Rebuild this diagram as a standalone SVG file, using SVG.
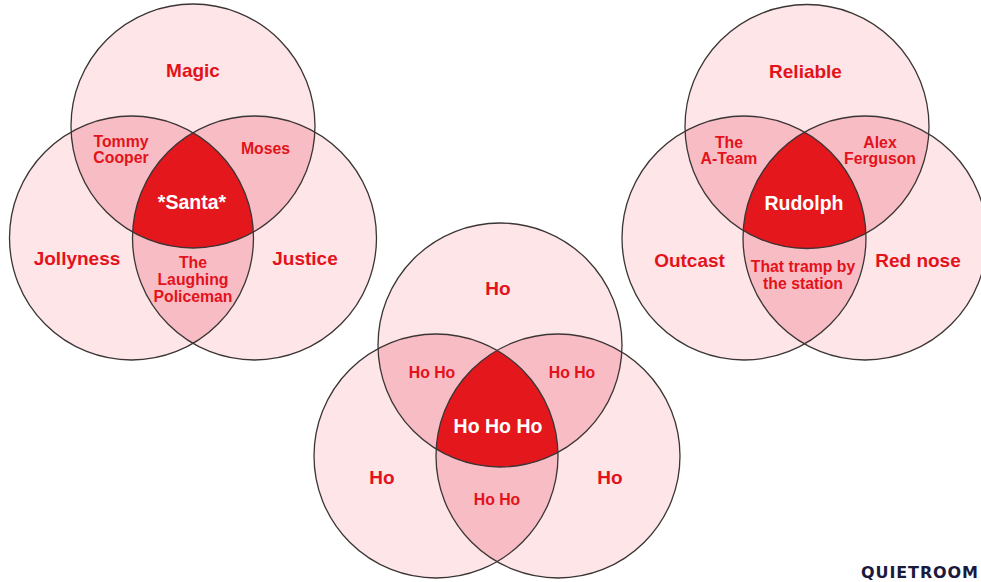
<svg xmlns="http://www.w3.org/2000/svg" width="981" height="582" viewBox="0 0 981 582">
<style>
  .one{fill:#fde5e8}
  .two{fill:#f8bcc4}
  .three{fill:#e3171c}
  .ring{fill:none;stroke:#3b3535;stroke-width:1.3}
  text{font-family:"Liberation Sans",Arial,sans-serif;font-weight:bold;text-anchor:middle}
  .big{font-size:19px;fill:#e3121b}
  .small{font-size:15.8px;fill:#e3121b}
  .white{font-size:19.5px;fill:#ffffff}
  .brand{font-family:"DejaVu Sans",sans-serif;font-size:16px;fill:#1b1a3c;text-anchor:start;letter-spacing:0.9px}
</style>
<defs>
  <clipPath id="aT"><circle cx="193" cy="126" r="122"/></clipPath>
  <clipPath id="aL"><circle cx="131.5" cy="238" r="122"/></clipPath>
  <clipPath id="aR"><circle cx="254.5" cy="238" r="122"/></clipPath>
  <clipPath id="bT"><circle cx="500" cy="345" r="122"/></clipPath>
  <clipPath id="bL"><circle cx="436" cy="456" r="122"/></clipPath>
  <clipPath id="bR"><circle cx="558" cy="456" r="122"/></clipPath>
  <clipPath id="cT"><circle cx="807" cy="126.5" r="122"/></clipPath>
  <clipPath id="cL"><circle cx="744" cy="238" r="122"/></clipPath>
  <clipPath id="cR"><circle cx="865" cy="238" r="122"/></clipPath>
</defs>

<!-- Venn 1: Santa -->
<g id="venn-santa">
  <g id="santa-fills">
    <circle class="one" cx="193" cy="126" r="122"/>
    <circle class="one" cx="131.5" cy="238" r="122"/>
    <circle class="one" cx="254.5" cy="238" r="122"/>
    <circle class="two" cx="131.5" cy="238" r="122" clip-path="url(#aT)"/>
    <circle class="two" cx="254.5" cy="238" r="122" clip-path="url(#aT)"/>
    <circle class="two" cx="254.5" cy="238" r="122" clip-path="url(#aL)"/>
    <g clip-path="url(#aT)"><circle class="three" cx="131.5" cy="238" r="122" clip-path="url(#aR)"/></g>
  </g>
  <g id="magic"><circle class="ring" cx="193" cy="126" r="122"/><text class="big" x="193" y="77">Magic</text></g>
  <g id="jollyness"><circle class="ring" cx="131.5" cy="238" r="122"/><text class="big" x="77" y="265">Jollyness</text></g>
  <g id="justice"><circle class="ring" cx="254.5" cy="238" r="122"/><text class="big" x="305" y="265">Justice</text></g>
  <g id="tommy-cooper"><text class="small" x="121" y="146.5">Tommy</text><text class="small" x="121" y="162.5">Cooper</text></g>
  <g id="moses"><text class="small" x="265.5" y="154">Moses</text></g>
  <g id="laughing-policeman"><text class="small" x="193" y="267.5">The</text><text class="small" x="193" y="284.5">Laughing</text><text class="small" x="193" y="301.5">Policeman</text></g>
  <g id="santa"><text class="white" x="192" y="209">*Santa*</text></g>
</g>

<!-- Venn 2: Ho -->
<g id="venn-ho">
  <g id="ho-fills">
    <circle class="one" cx="500" cy="345" r="122"/>
    <circle class="one" cx="436" cy="456" r="122"/>
    <circle class="one" cx="558" cy="456" r="122"/>
    <circle class="two" cx="436" cy="456" r="122" clip-path="url(#bT)"/>
    <circle class="two" cx="558" cy="456" r="122" clip-path="url(#bT)"/>
    <circle class="two" cx="558" cy="456" r="122" clip-path="url(#bL)"/>
    <g clip-path="url(#bT)"><circle class="three" cx="436" cy="456" r="122" clip-path="url(#bR)"/></g>
  </g>
  <g id="ho-top"><circle class="ring" cx="500" cy="345" r="122"/><text class="big" x="498" y="295">Ho</text></g>
  <g id="ho-left"><circle class="ring" cx="436" cy="456" r="122"/><text class="big" x="382" y="484">Ho</text></g>
  <g id="ho-right"><circle class="ring" cx="558" cy="456" r="122"/><text class="big" x="610" y="484">Ho</text></g>
  <g id="hoho-left"><text class="small" x="432" y="377.5">Ho Ho</text></g>
  <g id="hoho-right"><text class="small" x="572" y="377.5">Ho Ho</text></g>
  <g id="hoho-bottom"><text class="small" x="497" y="505">Ho Ho</text></g>
  <g id="hohoho"><text class="white" x="498" y="433">Ho Ho Ho</text></g>
</g>

<!-- Venn 3: Rudolph -->
<g id="venn-rudolph">
  <g id="rudolph-fills">
    <circle class="one" cx="807" cy="126.5" r="122"/>
    <circle class="one" cx="744" cy="238" r="122"/>
    <circle class="one" cx="865" cy="238" r="122"/>
    <circle class="two" cx="744" cy="238" r="122" clip-path="url(#cT)"/>
    <circle class="two" cx="865" cy="238" r="122" clip-path="url(#cT)"/>
    <circle class="two" cx="865" cy="238" r="122" clip-path="url(#cL)"/>
    <g clip-path="url(#cT)"><circle class="three" cx="744" cy="238" r="122" clip-path="url(#cR)"/></g>
  </g>
  <g id="reliable"><circle class="ring" cx="807" cy="126.5" r="122"/><text class="big" x="805.5" y="77.5">Reliable</text></g>
  <g id="outcast"><circle class="ring" cx="744" cy="238" r="122"/><text class="big" x="689.5" y="266.5">Outcast</text></g>
  <g id="red-nose"><circle class="ring" cx="865" cy="238" r="122"/><text class="big" x="918" y="266.5">Red nose</text></g>
  <g id="a-team"><text class="small" x="729" y="147.5">The</text><text class="small" x="729" y="164">A-Team</text></g>
  <g id="alex-ferguson"><text class="small" x="880" y="147.5">Alex</text><text class="small" x="880" y="164">Ferguson</text></g>
  <g id="tramp"><text class="small" x="803" y="272">That tramp by</text><text class="small" x="803" y="289">the station</text></g>
  <g id="rudolph"><text class="white" x="804" y="210">Rudolph</text></g>
</g>

<text class="brand" x="861" y="578">QUIETROOM</text>
</svg>
